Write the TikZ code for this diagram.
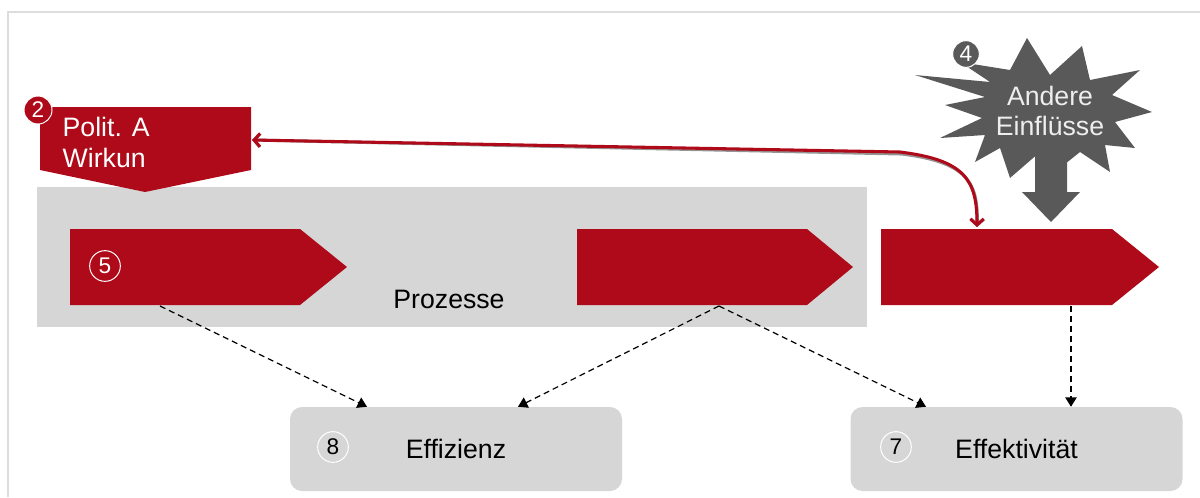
\documentclass[tikz,border=0pt]{standalone}
\usepackage{fontspec}
\setmainfont{Liberation Sans}
\usetikzlibrary{arrows.meta,calc}
\definecolor{brandred}{RGB}{175,10,25}
\definecolor{panelgrey}{RGB}{214,214,214}
\definecolor{stargrey}{RGB}{89,89,89}
\definecolor{framegrey}{RGB}{221,221,221}
\definecolor{startext}{RGB}{238,238,238}

\begin{document}
\begin{tikzpicture}[x=0.75pt,y=-0.75pt,
  bigtext/.style={font=\fontsize{20}{23.25}\selectfont},
  procarrow/.style={fill=brandred},
  outbox/.style={rounded corners=9pt, fill=panelgrey, minimum width=249pt,
    minimum height=63pt, inner sep=0pt, bigtext},
  numcirc/.style={circle, draw=white, line width=0.75pt, minimum size=23pt,
    inner sep=0pt, font=\fontsize{17}{17}\selectfont},
  depends/.style={dash pattern=on 4.5pt off 3pt, line width=0.9pt,
    -{Triangle[length=7pt,width=8.5pt]}},
  feedback/.style={line width=2.3pt, line cap=round,
    {Straight Barb[length=4.5pt,width=10pt]}-{Straight Barb[length=4.5pt,width=10pt]}}
]
\useasboundingbox (0,0) rectangle (1200,497);

% outer frame
\draw[framegrey, line width=1.5pt] (8,497) -- (8,12) -- (1200,12);

% process panel
\fill[panelgrey] (37,187) rectangle (867,327);
\node[bigtext] (proz) at (449,299) {Prozesse};

% political box pointing down
\fill[brandred] (40,107) -- (251,107) -- (251,170) -- (145,192) -- (40,170) -- cycle;
\coordinate (politeast) at (252,140);
\node[bigtext, text=white, align=left, anchor=west] (polit) at (58,142) {Polit. A\\Wirkun};
\node[numcirc, fill=brandred, text=white, minimum size=21pt] (n2) at (38,110) {2};

% process arrows
\fill[procarrow] (70,229) -- (300,229) -- (347,267) -- (300,305) -- (70,305) -- cycle;
\fill[procarrow] (577,229) -- (807,229) -- (853,267) -- (807,305) -- (577,305) -- cycle;
\fill[procarrow] (881,229) -- (1112,229) -- (1159,267) -- (1112,305) -- (881,305) -- cycle;
\node[numcirc, text=white] (n5) at (105,266) {5};
\coordinate (aone) at (160,306);
\coordinate (atwo) at (719,306);
\coordinate (athree) at (1071,306);
\coordinate (athreetop) at (977,227);

% other influences: burst and downward arrow
\fill[stargrey] (1027,38) -- (1050,75) -- (1082,46) -- (1090,80) -- (1140,70)
  -- (1112,95) -- (1152,112) -- (1115,122) -- (1135,148) -- (1105,145)
  -- (1110,172) -- (1080,152) -- (1060,168) -- (1040,152) -- (1010,178)
  -- (1000,148) -- (975,162) -- (985,135) -- (940,138) -- (982,118)
  -- (945,105) -- (985,97) -- (915,75) -- (990,82) -- (960,62)
  -- (1010,70) -- cycle;
\fill[stargrey] (1035,140) -- (1067,140) -- (1067,192) -- (1080,192) -- (1051,222)
  -- (1022,192) -- (1035,192) -- cycle;
\node[bigtext, text=startext, align=center, font=\fontsize{20}{22.5}\selectfont]
  (infl) at (1050,111) {Andere\\Einflüsse};
\node[numcirc, fill=stargrey, text=white, minimum size=20pt] (n4) at (966,54) {4};

% outcome boxes
\node[outbox] (eff) at (456,449) {Effizienz};
\node[numcirc] (n8) at (333,447) {8};
\node[outbox] (wirk) at (1016.5,449) {Effektivität};
\node[numcirc] (n7) at (896,447) {7};

% dependencies
\draw[depends] (aone) -- ($(eff.north)+(-89,0)$);
\draw[depends] (atwo) -- ($(eff.north)+(62,0)$);
\draw[depends] (atwo) -- ($(wirk.north)+(-90.5,0)$);
\draw[depends] (athree) -- (wirk.north -| athree);

% feedback loop with shadow
\draw[feedback, black!60, opacity=0.7, xshift=1.2pt, yshift=-1.5pt]
  (politeast) -- (900,152) .. controls (965,160) and (977,180) .. (athreetop);
\draw[feedback, brandred]
  (politeast) -- (900,152) .. controls (965,160) and (977,180) .. (athreetop);
\end{tikzpicture}
\end{document}
